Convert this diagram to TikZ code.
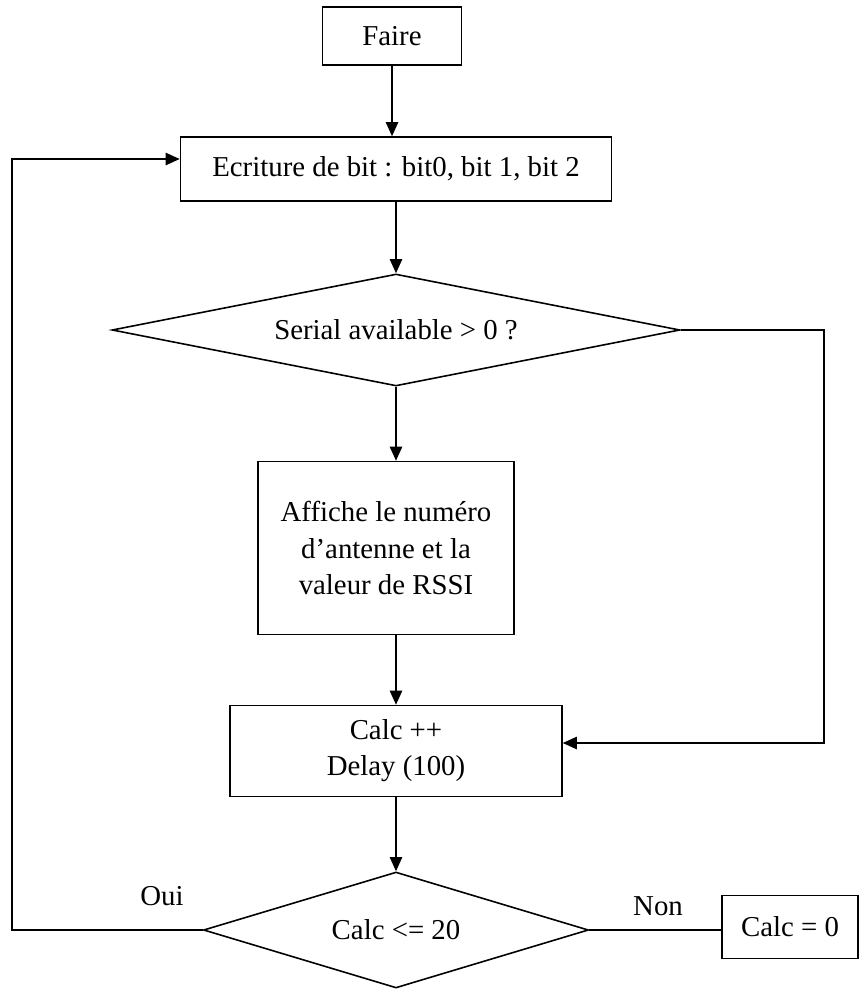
\documentclass[tikz,border=0pt]{standalone}
\usepackage{fontspec}
\setmainfont{Liberation Serif}
\usepackage{tikz}
\usetikzlibrary{shapes.geometric,arrows.meta,positioning}

\begin{document}
\begin{tikzpicture}[
        x=0.02cm, y=-0.02cm,
        box/.style={draw, line width=0.9pt, align=center, inner sep=2pt,
                    font=\fontsize{16.4}{20.5}\selectfont},
        cond/.style={draw, diamond, aspect=4, line width=0.9pt, inner sep=0pt,
                    font=\fontsize{16.4}{20.5}\selectfont},
        lbl/.style={font=\fontsize{16.4}{20.5}\selectfont},
        arr/.style={-{Triangle[length=8pt,width=7pt]}, line width=0.9pt},
        line/.style={line width=0.9pt}
    ]
        \useasboundingbox (0,0) rectangle (862,990);

        % ── Main column ──────────────────────────────────────────────────
        \node[box, minimum width=2.78cm, minimum height=1.16cm] (faire) at (392, 36)  {Faire};
        \node[box, minimum width=8.62cm, minimum height=1.28cm] (ecr)   at (396,169)  {Ecriture de bit : bit0, bit 1, bit 2};
        \node[cond, minimum width=11.36cm, minimum height=2.24cm] (serial) at (396,330) {Serial available > 0 ?};
        \node[box, minimum width=5.12cm, minimum height=3.46cm] (aff)   at (386,548)  {Affiche le numéro\\d’antenne et la\\valeur de RSSI};
        \node[box, minimum width=6.64cm, minimum height=1.82cm] (calc)  at (396,751)  {Calc ++\\Delay (100)};
        \node[cond, minimum width=7.7cm, minimum height=2.32cm]  (test)  at (396,930)  {Calc <= 20};
        \node[box, minimum width=2.72cm, minimum height=1.26cm] (zero)  at (790,927)  {Calc = 0};

        % ── Downward arrows ──────────────────────────────────────────────
        \draw[arr] (faire.south) -- (faire.south |- ecr.north);
        \draw[arr] (ecr.south)   -- (serial.north);
        \draw[arr] (serial.south) -- (serial.south |- aff.north);
        \draw[arr] (aff.south -| calc.north) -- (calc.north);
        \draw[arr] (calc.south)  -- (test.north);

        % ── RIGHT bypass: serial → calc ─────────────────────────────────
        \coordinate (rturn) at (824,743);
        \draw[arr] (serial.east) -| (rturn) -- (rturn -| calc.east);

        % ── LEFT loop: test → ecr ───────────────────────────────────────
        \coordinate (lturn) at (12,159);
        \draw[arr] (test.west) -| (lturn) -- (lturn -| ecr.west);
        \node[lbl] (oui) at (162,896) {Oui};

        % ── "Non" branch ────────────────────────────────────────────────
        \draw[line] (test.east) -- (test.east -| zero.west);
        \node[lbl] (non) at (658,906) {Non};

    \end{tikzpicture}
\end{document}
